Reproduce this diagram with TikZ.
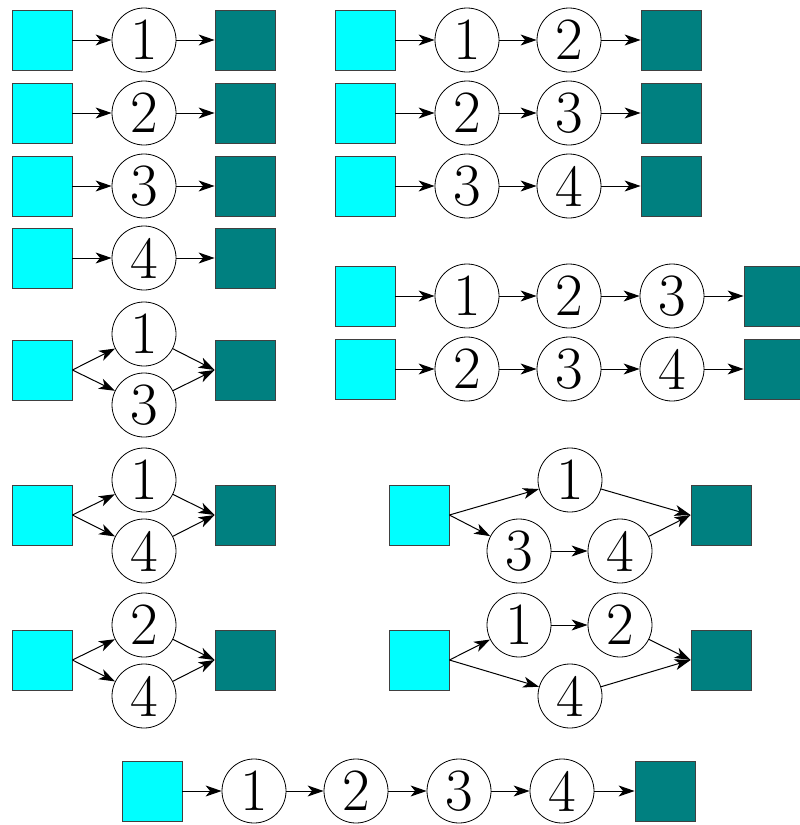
\documentclass[tikz,border=0pt]{standalone}
\usetikzlibrary{arrows.meta}
\usepackage{xcolor}
\definecolor{srccyan}{RGB}{0,255,255}
\definecolor{snkteal}{RGB}{0,128,128}

\begin{document}
\begin{tikzpicture}[
        x=1pt, y=-1pt,
        src/.style={rectangle, draw=black!75, line width=0.8pt, fill=srccyan, minimum size=60pt, inner sep=0pt},
        snk/.style={rectangle, draw=black!75, line width=0.8pt, fill=snkteal, minimum size=60pt, inner sep=0pt},
        job/.style={circle, draw, line width=0.8pt, fill=white, minimum size=64pt, inner sep=0pt, font=\fontsize{60}{60}\selectfont},
        flow/.style={-{Stealth[length=16pt, width=11pt, inset=4.5pt]}, line width=1pt}
    ]
        \useasboundingbox (0,0) rectangle (800,825);

        % Left column: single jobs
        \node[src] (sA) at (42,40) {};
        \node[job] (jA1) at (144,40) {1};
        \node[snk] (tA) at (245,40) {};
        \node[src] (sB) at (42,113) {};
        \node[job] (jB2) at (144,113) {2};
        \node[snk] (tB) at (245,113) {};
        \node[src] (sC) at (42,186) {};
        \node[job] (jC3) at (144,186) {3};
        \node[snk] (tC) at (245,186) {};
        \node[src] (sD) at (42,258) {};
        \node[job] (jD4) at (144,258) {4};
        \node[snk] (tD) at (245,258) {};

        % Left column: two jobs in parallel
        \node[src] (sE) at (42,370) {};
        \node[job] (jE1) at (144,334) {1};
        \node[job] (jE3) at (144,405) {3};
        \node[snk] (tE) at (245,370) {};
        \node[src] (sF) at (42,515) {};
        \node[job] (jF1) at (144,480) {1};
        \node[job] (jF4) at (144,551) {4};
        \node[snk] (tF) at (245,515) {};
        \node[src] (sG) at (42,660) {};
        \node[job] (jG2) at (144,625) {2};
        \node[job] (jG4) at (144,696) {4};
        \node[snk] (tG) at (245,660) {};

        % Right column: two jobs in series
        \node[src] (sH) at (365,40) {};
        \node[job] (jH1) at (467,40) {1};
        \node[job] (jH2) at (569,40) {2};
        \node[snk] (tH) at (671,40) {};
        \node[src] (sI) at (365,113) {};
        \node[job] (jI2) at (467,113) {2};
        \node[job] (jI3) at (569,113) {3};
        \node[snk] (tI) at (671,113) {};
        \node[src] (sJ) at (365,186) {};
        \node[job] (jJ3) at (467,186) {3};
        \node[job] (jJ4) at (569,186) {4};
        \node[snk] (tJ) at (671,186) {};

        % Right column: three jobs in series
        \node[src] (sK) at (365,296) {};
        \node[job] (jK1) at (467,296) {1};
        \node[job] (jK2) at (569,296) {2};
        \node[job] (jK3) at (672,296) {3};
        \node[snk] (tK) at (774,296) {};
        \node[src] (sL) at (365,369) {};
        \node[job] (jL2) at (467,369) {2};
        \node[job] (jL3) at (569,369) {3};
        \node[job] (jL4) at (672,369) {4};
        \node[snk] (tL) at (774,369) {};

        % Right column: mixed
        \node[src] (sM) at (419,515) {};
        \node[job] (jM1) at (570,480) {1};
        \node[job] (jM3) at (519,551) {3};
        \node[job] (jM4) at (620,551) {4};
        \node[snk] (tM) at (721,515) {};
        \node[src] (sN) at (419,660) {};
        \node[job] (jN1) at (519,625) {1};
        \node[job] (jN2) at (620,625) {2};
        \node[job] (jN4) at (570,696) {4};
        \node[snk] (tN) at (721,660) {};

        % Bottom: all four
        \node[src] (sO) at (152,791) {};
        \node[job] (jO1) at (254,791) {1};
        \node[job] (jO2) at (356,791) {2};
        \node[job] (jO3) at (459,791) {3};
        \node[job] (jO4) at (562,791) {4};
        \node[snk] (tO) at (665,791) {};

        % Arrows
        \draw[flow] (sA) -- (jA1);
        \draw[flow] (jA1) -- (tA);
        \draw[flow] (sB) -- (jB2);
        \draw[flow] (jB2) -- (tB);
        \draw[flow] (sC) -- (jC3);
        \draw[flow] (jC3) -- (tC);
        \draw[flow] (sD) -- (jD4);
        \draw[flow] (jD4) -- (tD);

        \draw[flow] (sE.east) -- (jE1);
        \draw[flow] (sE.east) -- (jE3);
        \draw[flow] (jE1) -- (tE.west);
        \draw[flow] (jE3) -- (tE.west);
        \draw[flow] (sF.east) -- (jF1);
        \draw[flow] (sF.east) -- (jF4);
        \draw[flow] (jF1) -- (tF.west);
        \draw[flow] (jF4) -- (tF.west);
        \draw[flow] (sG.east) -- (jG2);
        \draw[flow] (sG.east) -- (jG4);
        \draw[flow] (jG2) -- (tG.west);
        \draw[flow] (jG4) -- (tG.west);

        \draw[flow] (sH) -- (jH1);
        \draw[flow] (jH1) -- (jH2);
        \draw[flow] (jH2) -- (tH);
        \draw[flow] (sI) -- (jI2);
        \draw[flow] (jI2) -- (jI3);
        \draw[flow] (jI3) -- (tI);
        \draw[flow] (sJ) -- (jJ3);
        \draw[flow] (jJ3) -- (jJ4);
        \draw[flow] (jJ4) -- (tJ);

        \draw[flow] (sK) -- (jK1);
        \draw[flow] (jK1) -- (jK2);
        \draw[flow] (jK2) -- (jK3);
        \draw[flow] (jK3) -- (tK);
        \draw[flow] (sL) -- (jL2);
        \draw[flow] (jL2) -- (jL3);
        \draw[flow] (jL3) -- (jL4);
        \draw[flow] (jL4) -- (tL);

        \draw[flow] (sM.east) -- (jM1);
        \draw[flow] (sM.east) -- (jM3);
        \draw[flow] (jM3) -- (jM4);
        \draw[flow] (jM1) -- (tM.west);
        \draw[flow] (jM4) -- (tM.west);
        \draw[flow] (sN.east) -- (jN1);
        \draw[flow] (jN1) -- (jN2);
        \draw[flow] (sN.east) -- (jN4);
        \draw[flow] (jN2) -- (tN.west);
        \draw[flow] (jN4) -- (tN.west);

        \draw[flow] (sO) -- (jO1);
        \draw[flow] (jO1) -- (jO2);
        \draw[flow] (jO2) -- (jO3);
        \draw[flow] (jO3) -- (jO4);
        \draw[flow] (jO4) -- (tO);
    \end{tikzpicture}
\end{document}
